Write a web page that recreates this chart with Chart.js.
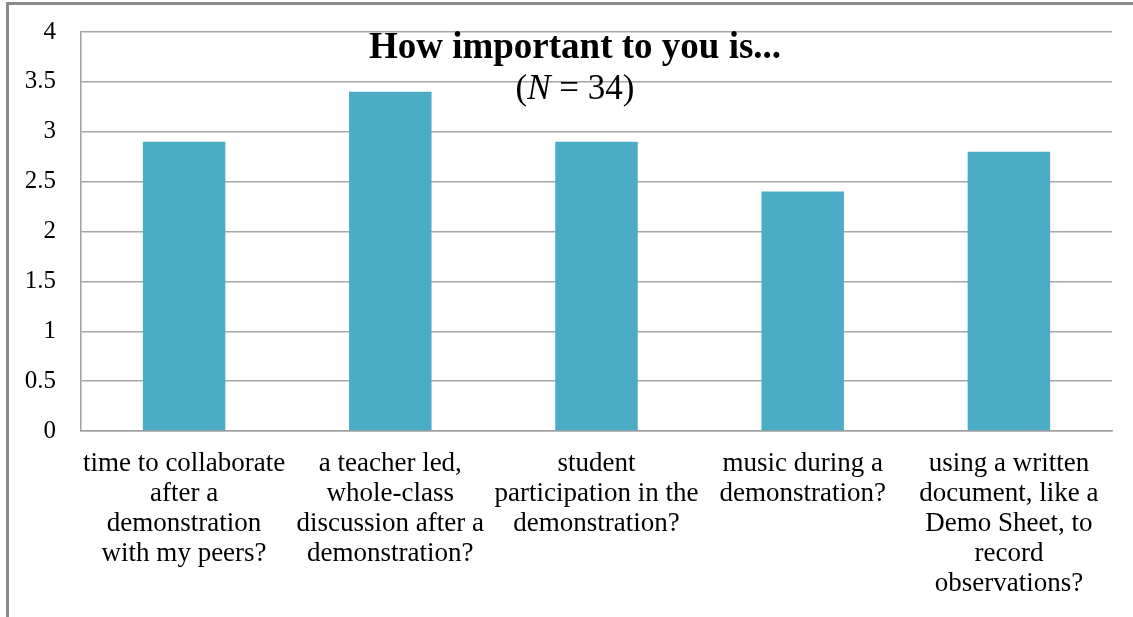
<!DOCTYPE html>
<html>
<head>
<meta charset="utf-8">
<script src="https://cdn.jsdelivr.net/npm/chart.js@4/dist/chart.umd.min.js"></script>
<style>
    html, body { margin: 0; padding: 0; background: #fff; }
    .frame {
        position: absolute; left: 6px; top: 2px; width: 1140px; height: 630px;
        border-top: 3px solid #8c8c8c; border-left: 3px solid #8c8c8c;
    }
    .chart-box { position: absolute; left: 0; top: 0; width: 1133px; height: 617px; }
</style>
</head>
<body>
<div class="frame"></div>
<div class="chart-box"><canvas id="importanceChart"></canvas></div>
<script>
// Chart data
const categories = [
    ['time to collaborate', 'after a', 'demonstration', 'with my peers?'],
    ['a teacher led,', 'whole-class', 'discussion after a', 'demonstration?'],
    ['student', 'participation in the', 'demonstration?'],
    ['music during a', 'demonstration?'],
    ['using a written', 'document, like a', 'Demo Sheet, to', 'record', 'observations?']
];
const meanScores = [2.9, 3.4, 2.9, 2.4, 2.8];
const titleText = 'How important to you is...';
const sampleSize = 34;

const serif = "'Liberation Serif', 'Times New Roman', serif";

// Title sits inside the plot area, so draw it by hand
const titlePlugin = {
    id: 'insideTitle',
    afterDraw(chart) {
        const ctx = chart.ctx;
        const cx = 575;
        ctx.save();
        ctx.fillStyle = '#000';
        ctx.textBaseline = 'alphabetic';
        ctx.textAlign = 'center';
        ctx.font = 'bold 37px ' + serif;
        ctx.fillText(titleText, cx, 58);

        // "(N = 34)" with italic N
        const parts = [
            ['(', '35px ' + serif],
            ['N', 'italic 35px ' + serif],
            [' = ' + sampleSize + ')', '35px ' + serif]
        ];
        let total = 0;
        parts.forEach(p => { ctx.font = p[1]; total += ctx.measureText(p[0]).width; });
        let x = cx - total / 2;
        ctx.textAlign = 'left';
        parts.forEach(p => {
            ctx.font = p[1];
            ctx.fillText(p[0], x, 99);
            x += ctx.measureText(p[0]).width;
        });
        ctx.restore();
    }
};

document.addEventListener('DOMContentLoaded', function() {
    const ctx = document.getElementById('importanceChart').getContext('2d');
    new Chart(ctx, {
        type: 'bar',
        data: {
            labels: categories,
            datasets: [{
                data: meanScores,
                backgroundColor: '#4BACC6',
                borderWidth: 0,
                categoryPercentage: 1,
                barPercentage: 0.4
            }]
        },
        options: {
            responsive: true,
            maintainAspectRatio: false,
            animation: false,
            layout: { padding: { top: 32, right: 21, left: 0, bottom: 0 } },
            plugins: {
                legend: { display: false },
                tooltip: { enabled: false }
            },
            scales: {
                x: {
                    grid: { display: false, drawTicks: false },
                    border: { display: true, color: '#a0a0a0', width: 1.5 },
                    ticks: {
                        color: '#000',
                        padding: 18,
                        maxRotation: 0,
                        autoSkip: false,
                        font: { family: serif, size: 27, lineHeight: 1.111 }
                    },
                    afterFit: scale => { scale.height = 186; }
                },
                y: {
                    min: 0,
                    max: 4,
                    grid: { color: '#a6a6a6', lineWidth: 1.5, drawTicks: false },
                    border: { display: true, color: '#a0a0a0', width: 1.5 },
                    ticks: {
                        stepSize: 0.5,
                        color: '#000',
                        padding: 25,
                        font: { family: serif, size: 25 },
                        callback: v => String(v)
                    },
                    afterFit: scale => {
                        scale.width = 81;
                        scale.paddingTop = 0;
                        scale.paddingBottom = 0;
                    }
                }
            }
        },
        plugins: [titlePlugin]
    });
});
</script>
</body>
</html>
